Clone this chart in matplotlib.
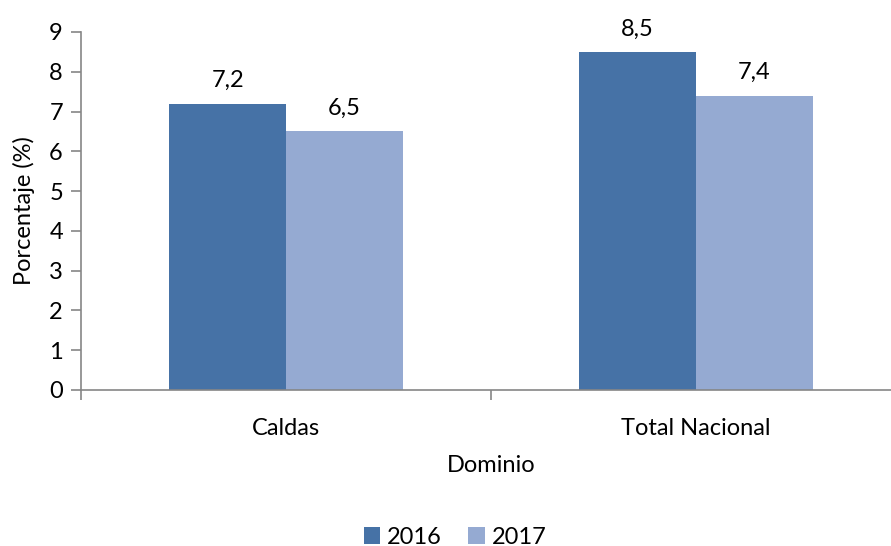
import matplotlib
matplotlib.use("Agg")
import matplotlib.pyplot as plt
import numpy as np

categories = ["Caldas", "Total Nacional"]
years = ["2016", "2017"]
values_2016 = [7.2, 8.5]
values_2017 = [6.5, 7.4]
y_ticks = list(range(0, 10))

plt.rcParams["font.family"] = ["Lato", "DejaVu Sans"]
FS = 17

fig = plt.figure(figsize=(8.91, 5.46), dpi=100)
# axes runs slightly past the right edge, like the source image
ax = fig.add_axes([81 / 891, 1 - 390 / 546, 820 / 891, 358 / 546])

x = np.arange(len(categories))
bar_width = 0.285
colors = ["#4672A6", "#95AAD2"]

bars_a = ax.bar(x - bar_width / 2, values_2016, width=bar_width, color=colors[0], label=years[0])
bars_b = ax.bar(x + bar_width / 2, values_2017, width=bar_width, color=colors[1], label=years[1])

for bars in (bars_a, bars_b):
    for bar in bars:
        h = bar.get_height()
        ax.annotate(
            f"{h:.1f}".replace(".", ","),
            (bar.get_x() + bar.get_width() / 2, h),
            xytext=(0, 9),
            textcoords="offset points",
            ha="center",
            va="bottom",
            fontsize=FS,
        )

ax.set_xlim(-0.5, 1.5)
ax.set_ylim(0, 9)
ax.set_yticks(y_ticks)
ax.set_xticks(x)
ax.set_xticklabels(categories, fontsize=FS)
ax.set_xticks([-0.5, 0.5, 1.5], minor=True)
ax.tick_params(axis="x", which="major", length=0, pad=20)
ax.tick_params(axis="x", which="minor", length=7, color="#868686", width=1.2)
ax.tick_params(axis="y", length=7, color="#868686", width=1.2, labelsize=FS, pad=6)

for side in ("top", "right"):
    ax.spines[side].set_visible(False)
for side in ("left", "bottom"):
    ax.spines[side].set_color("#868686")
    ax.spines[side].set_linewidth(1.2)

ax.set_ylabel("Porcentaje (%)", fontsize=FS, labelpad=10)
ax.set_xlabel("Dominio", fontsize=FS, labelpad=12)

fig.legend(
    handles=[bars_a, bars_b],
    labels=years,
    loc="center",
    bbox_to_anchor=(455 / 891, 1 - 537 / 546),
    ncol=2,
    frameon=False,
    fontsize=FS,
    handlelength=0.7,
    handleheight=0.7,
    handletextpad=0.3,
    columnspacing=1.1,
)

fig.savefig("out.png", dpi=100)
